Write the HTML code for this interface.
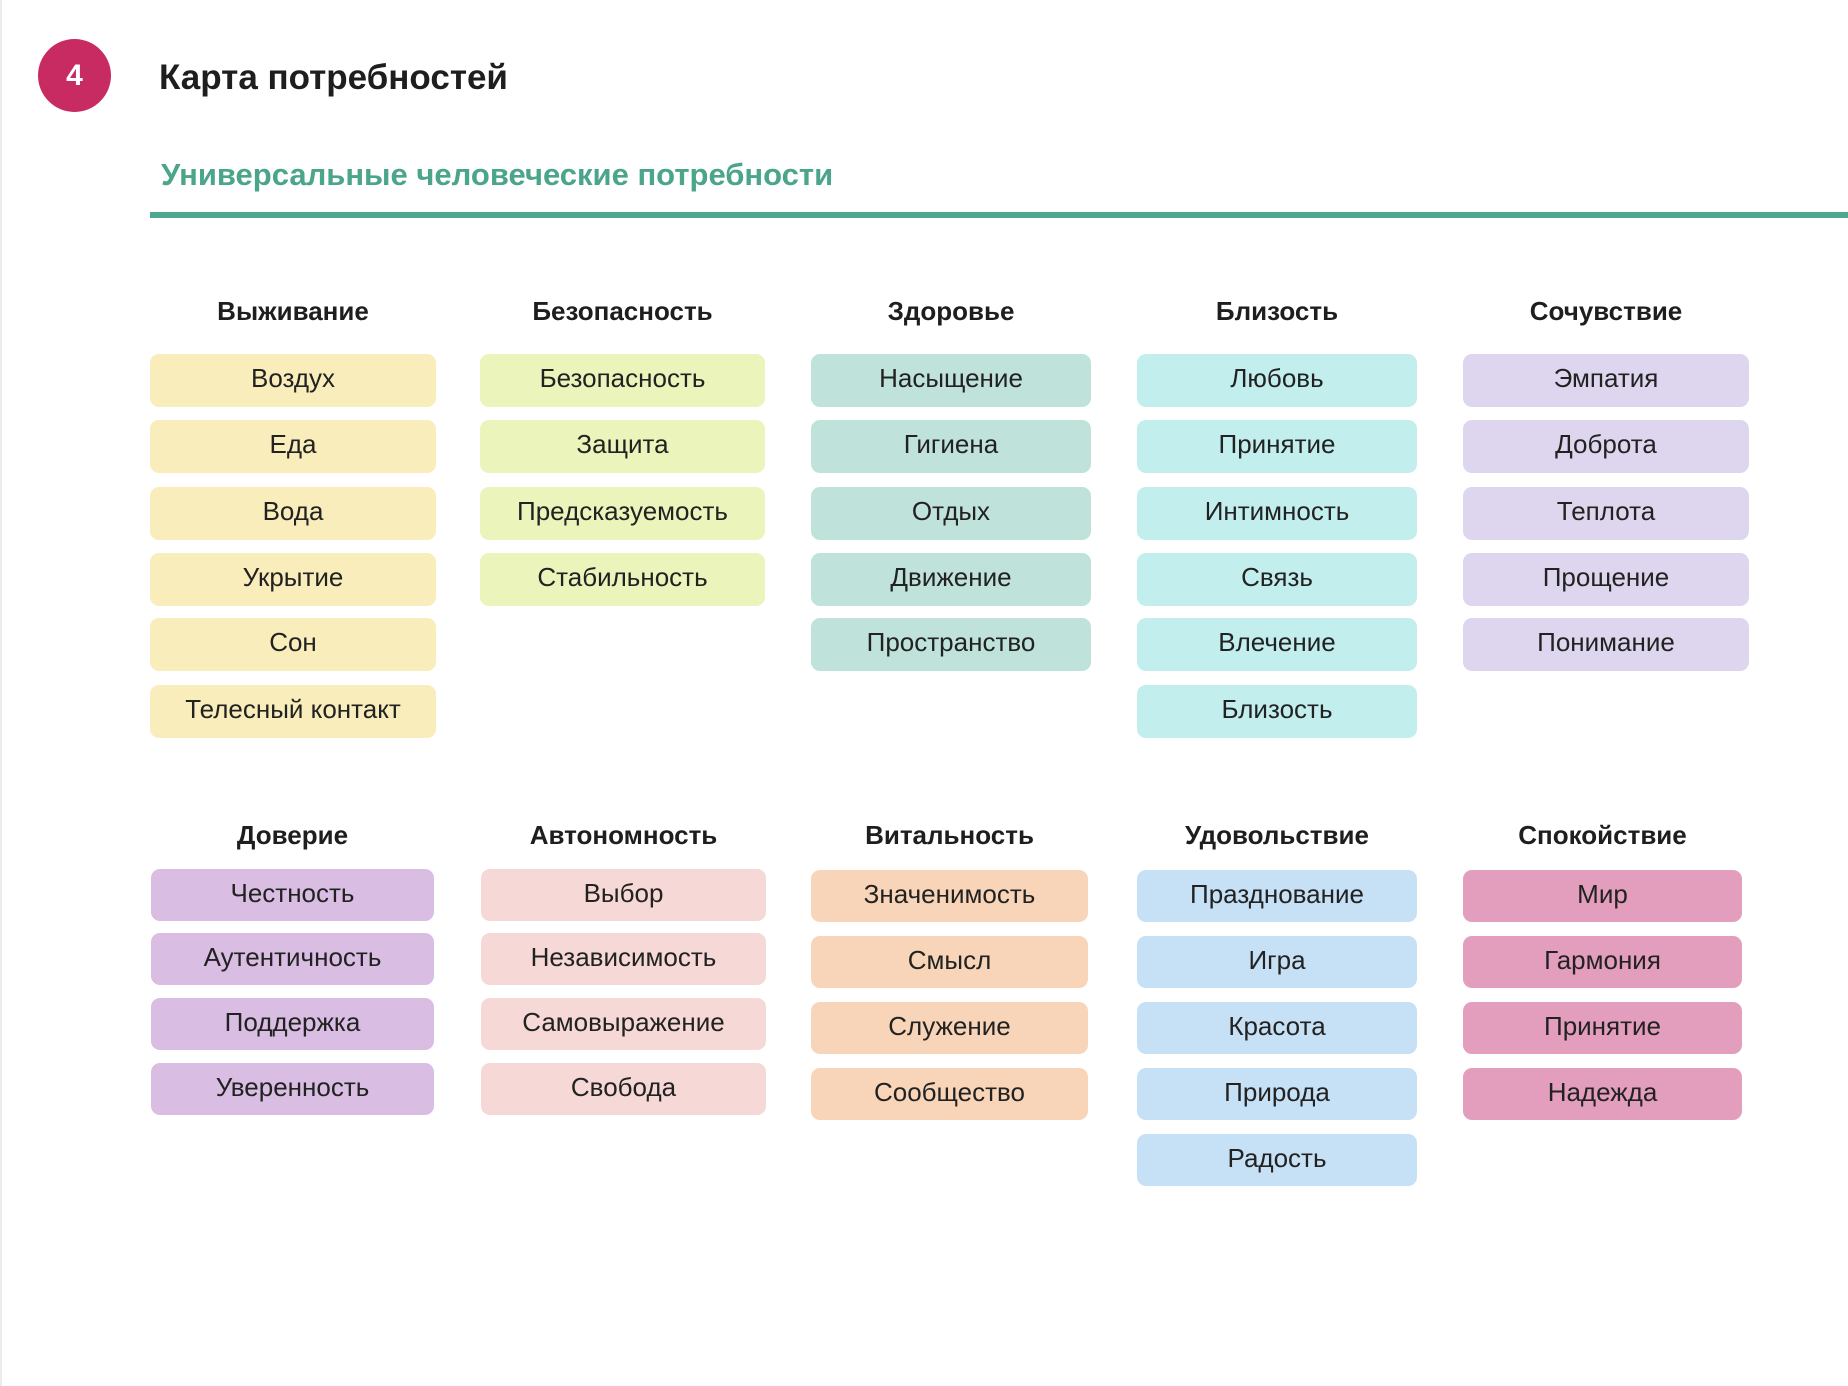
<!DOCTYPE html>
<html><head><meta charset="utf-8">
<style>
html,body{margin:0;padding:0;background:#fff;}
body{width:1848px;height:1386px;position:relative;overflow:hidden;font-family:"Liberation Sans","DejaVu Sans",sans-serif;color:#222;}
.edge{position:absolute;left:0;top:0;width:2px;height:1386px;background:#ececec;}
.circ{position:absolute;left:38px;top:39px;width:73px;height:73px;border-radius:50%;background:#c82a62;color:#fff;font-weight:bold;font-size:30px;line-height:73px;text-align:center;}
.title{position:absolute;left:159px;top:58px;font-size:35px;font-weight:bold;color:#1e1e1e;}
.sub{position:absolute;left:161px;top:157px;font-size:31px;font-weight:bold;color:#4aa58a;}
.rule{position:absolute;left:150px;top:212px;width:1698px;height:6px;background:#4fa78f;}
.col{position:absolute;}
.h{position:absolute;left:0;right:0;text-align:center;font-weight:bold;font-size:26px;color:#1e1e1e;margin-top:3px;}
.b{position:absolute;left:0;right:0;border-radius:9px;text-align:center;font-size:26px;color:#222;}
.t .b{height:53px;line-height:49px;}
.bt .b{height:52px;line-height:48px;}
</style></head><body>
<div class="edge"></div>
<div class="circ">4</div>
<div class="title">Карта потребностей</div>
<div class="sub">Универсальные человеческие потребности</div>
<div class="rule"></div>

<div class="col t" style="left:150px;top:0;width:286px;">
<div class="h" style="top:293px">Выживание</div>
<div class="b" style="top:354px;background:#f9edbb">Воздух</div>
<div class="b" style="top:420px;background:#f9edbb">Еда</div>
<div class="b" style="top:487px;background:#f9edbb">Вода</div>
<div class="b" style="top:553px;background:#f9edbb">Укрытие</div>
<div class="b" style="top:618px;background:#f9edbb">Сон</div>
<div class="b" style="top:685px;background:#f9edbb">Телесный контакт</div>
</div>
<div class="col t" style="left:480px;top:0;width:285px;">
<div class="h" style="top:293px">Безопасность</div>
<div class="b" style="top:354px;background:#ebf4bb">Безопасность</div>
<div class="b" style="top:420px;background:#ebf4bb">Защита</div>
<div class="b" style="top:487px;background:#ebf4bb">Предсказуемость</div>
<div class="b" style="top:553px;background:#ebf4bb">Стабильность</div>
</div>
<div class="col t" style="left:811px;top:0;width:280px;">
<div class="h" style="top:293px">Здоровье</div>
<div class="b" style="top:354px;background:#bfe2da">Насыщение</div>
<div class="b" style="top:420px;background:#bfe2da">Гигиена</div>
<div class="b" style="top:487px;background:#bfe2da">Отдых</div>
<div class="b" style="top:553px;background:#bfe2da">Движение</div>
<div class="b" style="top:618px;background:#bfe2da">Пространство</div>
</div>
<div class="col t" style="left:1137px;top:0;width:280px;">
<div class="h" style="top:293px">Близость</div>
<div class="b" style="top:354px;background:#c3eeee">Любовь</div>
<div class="b" style="top:420px;background:#c3eeee">Принятие</div>
<div class="b" style="top:487px;background:#c3eeee">Интимность</div>
<div class="b" style="top:553px;background:#c3eeee">Связь</div>
<div class="b" style="top:618px;background:#c3eeee">Влечение</div>
<div class="b" style="top:685px;background:#c3eeee">Близость</div>
</div>
<div class="col t" style="left:1463px;top:0;width:286px;">
<div class="h" style="top:293px">Сочувствие</div>
<div class="b" style="top:354px;background:#ddd6ee">Эмпатия</div>
<div class="b" style="top:420px;background:#ddd6ee">Доброта</div>
<div class="b" style="top:487px;background:#ddd6ee">Теплота</div>
<div class="b" style="top:553px;background:#ddd6ee">Прощение</div>
<div class="b" style="top:618px;background:#ddd6ee">Понимание</div>
</div>

<div class="col bt" style="left:151px;top:0;width:283px;">
<div class="h" style="top:817px">Доверие</div>
<div class="b" style="top:869px;background:#d9bde3">Честность</div>
<div class="b" style="top:933px;background:#d9bde3">Аутентичность</div>
<div class="b" style="top:998px;background:#d9bde3">Поддержка</div>
<div class="b" style="top:1063px;background:#d9bde3">Уверенность</div>
</div>
<div class="col bt" style="left:481px;top:0;width:285px;">
<div class="h" style="top:817px">Автономность</div>
<div class="b" style="top:869px;background:#f6d9d6">Выбор</div>
<div class="b" style="top:933px;background:#f6d9d6">Независимость</div>
<div class="b" style="top:998px;background:#f6d9d6">Самовыражение</div>
<div class="b" style="top:1063px;background:#f6d9d6">Свобода</div>
</div>
<div class="col bt" style="left:811px;top:0;width:277px;">
<div class="h" style="top:817px">Витальность</div>
<div class="b" style="top:870px;background:#f8d5b8">Значенимость</div>
<div class="b" style="top:936px;background:#f8d5b8">Смысл</div>
<div class="b" style="top:1002px;background:#f8d5b8">Служение</div>
<div class="b" style="top:1068px;background:#f8d5b8">Сообщество</div>
</div>
<div class="col bt" style="left:1137px;top:0;width:280px;">
<div class="h" style="top:817px">Удовольствие</div>
<div class="b" style="top:870px;background:#c6e0f6">Празднование</div>
<div class="b" style="top:936px;background:#c6e0f6">Игра</div>
<div class="b" style="top:1002px;background:#c6e0f6">Красота</div>
<div class="b" style="top:1068px;background:#c6e0f6">Природа</div>
<div class="b" style="top:1134px;background:#c6e0f6">Радость</div>
</div>
<div class="col bt" style="left:1463px;top:0;width:279px;">
<div class="h" style="top:817px">Спокойствие</div>
<div class="b" style="top:870px;background:#e39dbd">Мир</div>
<div class="b" style="top:936px;background:#e39dbd">Гармония</div>
<div class="b" style="top:1002px;background:#e39dbd">Принятие</div>
<div class="b" style="top:1068px;background:#e39dbd">Надежда</div>
</div>
</body></html>
